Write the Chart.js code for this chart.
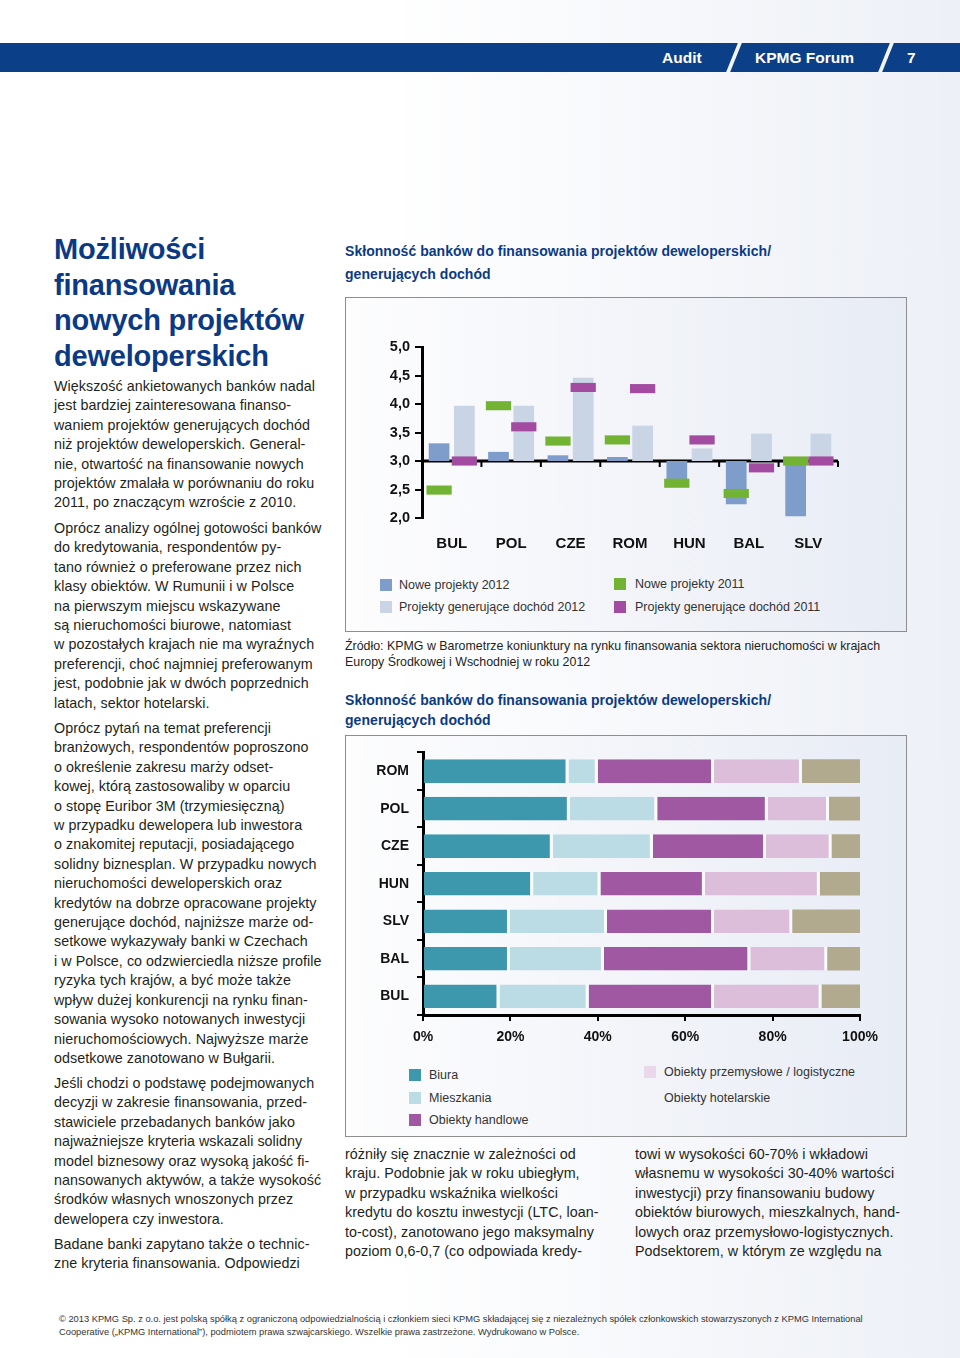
<!DOCTYPE html>
<html lang="pl">
<head>
<meta charset="utf-8">
<title>KPMG Forum 7</title>
<script src="https://cdn.jsdelivr.net/npm/chart.js@4.4.0/dist/chart.umd.min.js"></script>
<style>
  html, body { margin: 0; padding: 0; }
  body {
    width: 960px; height: 1358px; position: relative; overflow: hidden;
    background: linear-gradient(90deg, #ffffff 0%, #ffffff 40%, #edf0f7 100%);
    font-family: "Liberation Sans", Arial, sans-serif; color: #231f20;
  }
  .abs { position: absolute; white-space: nowrap; }
  .band { position: absolute; left: 0; top: 43px; width: 960px; height: 29px; background: #0b3f88; }
  .sep { position: absolute; top: 43px; width: 4px; height: 29px; background: #f3f5fa; transform: skewX(-22deg); }
  .hdr { position: absolute; top: 43px; line-height: 29px; color: #fff; font-weight: bold; font-size: 15.5px; }
  .title { left: 54px; font-size: 29px; line-height: 35.7px; font-weight: bold; color: #0b3a85; letter-spacing: -0.2px; }
  .txt { font-size: 14.3px; line-height: 19.4px; letter-spacing: 0.05px; }
  .ctitle { left: 345px; font-size: 14px; font-weight: bold; color: #0b3a85; letter-spacing: 0.05px; }
  .panel { position: absolute; border: 1px solid #8e8e8e; background: linear-gradient(90deg, #fdfdfe 0%, #e8ecf5 100%); }
  canvas { position: absolute; }
  .leg { position: absolute; font-size: 12.5px; color: #333; white-space: nowrap; line-height: 14px; }
  .sw { position: absolute; width: 12px; height: 12px; }
  .foot { left: 59px; font-size: 9.3px; line-height: 13px; color: #333; }
</style>
</head>
<body>

<div class="band"></div>
<div class="sep" style="left:732px"></div>
<div class="sep" style="left:884px"></div>
<div class="hdr" style="left:662px">Audit</div>
<div class="hdr" style="left:755px">KPMG Forum</div>
<div class="hdr" style="left:907px">7</div>

<div class="abs title" style="top:232px">Możliwości<br>finansowania<br>nowych projektów<br>deweloperskich</div>

<div class="abs txt" style="left:54px; top:377px">Większość ankietowanych banków nadal<br>jest bardziej zainteresowana finanso-<br>waniem projektów generujących dochód<br>niż projektów deweloperskich. General-<br>nie, otwartość na finansowanie nowych<br>projektów zmalała w porównaniu do roku<br>2011, po znaczącym wzroście z 2010.</div>

<div class="abs txt" style="left:54px; top:519px">Oprócz analizy ogólnej gotowości banków<br>do kredytowania, respondentów py-<br>tano również o preferowane przez nich<br>klasy obiektów. W Rumunii i w Polsce<br>na pierwszym miejscu wskazywane<br>są nieruchomości biurowe, natomiast<br>w pozostałych krajach nie ma wyraźnych<br>preferencji, choć najmniej preferowanym<br>jest, podobnie jak w dwóch poprzednich<br>latach, sektor hotelarski.</div>

<div class="abs txt" style="left:54px; top:719px">Oprócz pytań na temat preferencji<br>branżowych, respondentów poproszono<br>o określenie zakresu marży odset-<br>kowej, którą zastosowaliby w oparciu<br>o stopę Euribor 3M (trzymiesięczną)<br>w przypadku dewelopera lub inwestora<br>o znakomitej reputacji, posiadającego<br>solidny biznesplan. W przypadku nowych<br>nieruchomości deweloperskich oraz<br>kredytów na dobrze opracowane projekty<br>generujące dochód, najniższe marże od-<br>setkowe wykazywały banki w Czechach<br>i w Polsce, co odzwierciedla niższe profile<br>ryzyka tych krajów, a być może także<br>wpływ dużej konkurencji na rynku finan-<br>sowania wysoko notowanych inwestycji<br>nieruchomościowych. Najwyższe marże<br>odsetkowe zanotowano w Bułgarii.</div>

<div class="abs txt" style="left:54px; top:1074px">Jeśli chodzi o podstawę podejmowanych<br>decyzji w zakresie finansowania, przed-<br>stawiciele przebadanych banków jako<br>najważniejsze kryteria wskazali solidny<br>model biznesowy oraz wysoką jakość fi-<br>nansowanych aktywów, a także wysokość<br>środków własnych wnoszonych przez<br>dewelopera czy inwestora.</div>

<div class="abs txt" style="left:54px; top:1235px">Badane banki zapytano także o technic-<br>zne kryteria finansowania. Odpowiedzi</div>

<div class="abs ctitle" style="top:239.5px; line-height:23px">Skłonność banków do finansowania projektów deweloperskich/<br>generujących dochód</div>
<div class="panel" style="left:345px; top:297px; width:560px; height:333px"></div>
<canvas id="chart1" width="559" height="262" style="left:346px; top:298px"></canvas>
<div id="legend1"></div>

<div class="abs" style="left:345px; top:638px; font-size:12.4px; line-height:16px; letter-spacing:0px">Źródło: KPMG w Barometrze koniunktury na rynku finansowania sektora nieruchomości w krajach<br>Europy Środkowej i Wschodniej w roku 2012</div>

<div class="abs ctitle" style="top:690px; line-height:20px">Skłonność banków do finansowania projektów deweloperskich/<br>generujących dochód</div>
<div class="panel" style="left:345px; top:735px; width:560px; height:400px"></div>
<canvas id="chart2" width="559" height="320" style="left:346px; top:736px"></canvas>
<div id="legend2"></div>

<div class="abs txt" style="left:345px; top:1145px">różniły się znacznie w zależności od<br>kraju. Podobnie jak w roku ubiegłym,<br>w przypadku wskaźnika wielkości<br>kredytu do kosztu inwestycji (LTC, loan-<br>to-cost), zanotowano jego maksymalny<br>poziom 0,6-0,7 (co odpowiada kredy-</div>
<div class="abs txt" style="left:635px; top:1145px">towi w wysokości 60-70% i wkładowi<br>własnemu w wysokości 30-40% wartości<br>inwestycji) przy finansowaniu budowy<br>obiektów biurowych, mieszkalnych, hand-<br>lowych oraz przemysłowo-logistycznych.<br>Podsektorem, w którym ze względu na</div>

<div class="abs foot" style="top:1313px">© 2013 KPMG Sp. z o.o. jest polską spółką z ograniczoną odpowiedzialnością i członkiem sieci KPMG składającej się z niezależnych spółek członkowskich stowarzyszonych z KPMG International<br>Cooperative („KPMG International”), podmiotem prawa szwajcarskiego. Wszelkie prawa zastrzeżone. Wydrukowano w Polsce.</div>

<script>
// wykres 1 - skala 2..5, poziom neutralny 3,0
const kraje1 = ['BUL', 'POL', 'CZE', 'ROM', 'HUN', 'BAL', 'SLV'];
const nowe2012 = [3.31, 3.16, 3.10, 3.07, 2.66, 2.24, 2.03];
const dochod2012 = [3.97, 3.97, 4.46, 3.62, 3.22, 3.48, 3.48];
const nowe2011 = [2.49, 3.97, 3.35, 3.37, 2.61, 2.43, 3.00];
const dochod2011 = [3.00, 3.60, 4.29, 4.27, 3.37, 2.88, 3.00];
const ticks1 = [2.0, 2.5, 3.0, 3.5, 4.0, 4.5, 5.0];

// wykres 2 - udzialy w %
const kraje2 = ['ROM', 'POL', 'CZE', 'HUN', 'SLV', 'BAL', 'BUL'];
const biura = [33.3, 33.6, 29.7, 25.2, 19.9, 19.9, 17.5];
const mieszkania = [6.7, 20.0, 22.9, 15.4, 22.2, 21.5, 20.4];
const handlowe = [26.6, 25.3, 25.9, 23.9, 24.5, 33.5, 28.7];
const przemyslowe = [20.1, 14.0, 15.0, 26.3, 17.9, 17.6, 24.6];
const hotelarskie = [13.3, 7.1, 6.5, 9.2, 15.5, 7.5, 8.8];
const ticks2 = [0, 20, 40, 60, 80, 100];

const BAZA = 3.0;
const MARK = 0.08; // pol grubosci znacznika 2011
const tickFont = { family: '"Liberation Sans", Arial, sans-serif', size: 15, weight: 'bold' };

const liniaBazowa = {
    id: 'liniaBazowa',
    beforeDatasetsDraw(chart) {
        const { ctx, chartArea, scales } = chart;
        const y = scales.y.getPixelForValue(BAZA);
        const krok = (chartArea.right - chartArea.left) / kraje1.length;
        ctx.save();
        ctx.strokeStyle = '#000';
        ctx.lineWidth = 3;
        ctx.beginPath();
        ctx.moveTo(chartArea.left, y);
        ctx.lineTo(chartArea.right, y);
        ctx.stroke();
        ctx.lineWidth = 2;
        for (let i = 1; i <= kraje1.length; i++) {
            const x = chartArea.left + i * krok;
            ctx.beginPath();
            ctx.moveTo(x, y);
            ctx.lineTo(x, y + 6);
            ctx.stroke();
        }
        ctx.restore();
    }
};

const ds1 = [
    { label: 'Nowe projekty 2011', data: nowe2011.map(v => [v - MARK, v + MARK]), backgroundColor: '#73b333', stack: 'nowe', order: 0, barPercentage: 1 },
    { label: 'Projekty generujące dochód 2011', data: dochod2011.map(v => [v - MARK, v + MARK]), backgroundColor: '#a24ba0', stack: 'dochod', order: 0, barPercentage: 1 },
    { label: 'Nowe projekty 2012', data: nowe2012.map(v => [BAZA, v]), backgroundColor: '#7f9dca', stack: 'nowe', order: 1, barPercentage: 0.82 },
    { label: 'Projekty generujące dochód 2012', data: dochod2012.map(v => [BAZA, v]), backgroundColor: '#c9d4e5', stack: 'dochod', order: 1, barPercentage: 0.82 }
];

new Chart(document.getElementById('chart1'), {
    type: 'bar',
    data: { labels: kraje1, datasets: ds1 },
    plugins: [liniaBazowa],
    options: {
        responsive: false,
        animation: false,
        devicePixelRatio: 1,
        layout: { padding: { left: 0, right: 67, top: 49, bottom: 0 } },
        datasets: { bar: { categoryPercentage: 0.85, borderWidth: 0 } },
        plugins: { legend: { display: false }, tooltip: { enabled: false } },
        scales: {
            x: {
                stacked: true,
                grid: { display: false, drawTicks: false },
                border: { display: false },
                ticks: { color: '#111', font: tickFont, padding: 17 },
                afterFit: s => { s.height = 42; }
            },
            y: {
                stacked: false,
                min: 2, max: 5,
                afterBuildTicks: s => { s.ticks = ticks1.map(v => ({ value: v })); },
                ticks: { color: '#111', font: { ...tickFont, size: 14.5 }, padding: 5,
                         callback: v => v.toFixed(1).replace('.', ',') },
                grid: { drawOnChartArea: false, drawTicks: true, tickLength: 7, color: '#000', lineWidth: 2 },
                border: { display: true, color: '#000', width: 3 },
                afterFit: s => { s.width = 76; }
            }
        }
    }
});

const kolory2 = ['#3e98ad', '#bcdce5', '#a058a3', '#dcbdda', '#b1aa8e'];
const nazwy2 = ['Biura', 'Mieszkania', 'Obiekty handlowe', 'Obiekty przemysłowe / logistyczne', 'Obiekty hotelarskie'];
const serie2 = [biura, mieszkania, handlowe, przemyslowe, hotelarskie];

new Chart(document.getElementById('chart2'), {
    type: 'bar',
    data: {
        labels: kraje2,
        datasets: serie2.map((d, i) => ({
            label: nazwy2[i],
            data: d,
            backgroundColor: kolory2[i],
            borderColor: '#fafbfd',
            borderWidth: i < 4 ? { top: 0, bottom: 0, left: 0, right: 3 } : 0,
            borderSkipped: false
        }))
    },
    options: {
        indexAxis: 'y',
        responsive: false,
        animation: false,
        devicePixelRatio: 1,
        layout: { padding: { left: 0, right: 45, top: 12, bottom: 0 } },
        datasets: { bar: { categoryPercentage: 0.63, barPercentage: 1 } },
        plugins: { legend: { display: false }, tooltip: { enabled: false } },
        scales: {
            x: {
                stacked: true,
                min: 0, max: 100,
                afterBuildTicks: s => { s.ticks = ticks2.map(v => ({ value: v })); },
                ticks: { color: '#111', font: { ...tickFont, size: 14 }, padding: 8, callback: v => v + '%' },
                grid: { drawOnChartArea: false, drawTicks: true, tickLength: 6, color: '#000', lineWidth: 2 },
                border: { display: true, color: '#000', width: 3 },
                afterFit: s => { s.height = 41; }
            },
            y: {
                stacked: true,
                ticks: { color: '#111', font: { ...tickFont, size: 14 }, padding: 8 },
                grid: { drawOnChartArea: false, drawTicks: true, tickLength: 6, color: '#000', lineWidth: 2 },
                border: { display: true, color: '#000', width: 3 },
                afterFit: s => { s.width = 77; }
            }
        }
    }
});

// legendy w dwoch kolumnach jak w oryginale
function legenda(el, items) {
    const box = document.getElementById(el);
    items.forEach(it => {
        if (it.color) {
            const sw = document.createElement('div');
            sw.className = 'sw';
            sw.style.left = it.x + 'px';
            sw.style.top = (it.y - 6) + 'px';
            sw.style.background = it.color;
            box.appendChild(sw);
        }
        const t = document.createElement('div');
        t.className = 'leg';
        t.style.left = (it.x + it.gap) + 'px';
        t.style.top = (it.y - 7) + 'px';
        t.textContent = it.text;
        box.appendChild(t);
    });
}

legenda('legend1', [
    { x: 380, y: 585, gap: 19, text: ds1[2].label, color: ds1[2].backgroundColor },
    { x: 380, y: 607, gap: 19, text: ds1[3].label, color: ds1[3].backgroundColor },
    { x: 614, y: 584, gap: 21, text: ds1[0].label, color: ds1[0].backgroundColor },
    { x: 614, y: 607, gap: 21, text: ds1[1].label, color: ds1[1].backgroundColor }
]);

legenda('legend2', [
    { x: 409, y: 1075, gap: 20, text: nazwy2[0], color: kolory2[0] },
    { x: 409, y: 1098, gap: 20, text: nazwy2[1], color: kolory2[1] },
    { x: 409, y: 1120, gap: 20, text: nazwy2[2], color: kolory2[2] },
    { x: 644, y: 1072, gap: 20, text: nazwy2[3], color: '#ead8ea' },
    { x: 644, y: 1098, gap: 20, text: nazwy2[4], color: null }
]);
</script>
</body>
</html>
